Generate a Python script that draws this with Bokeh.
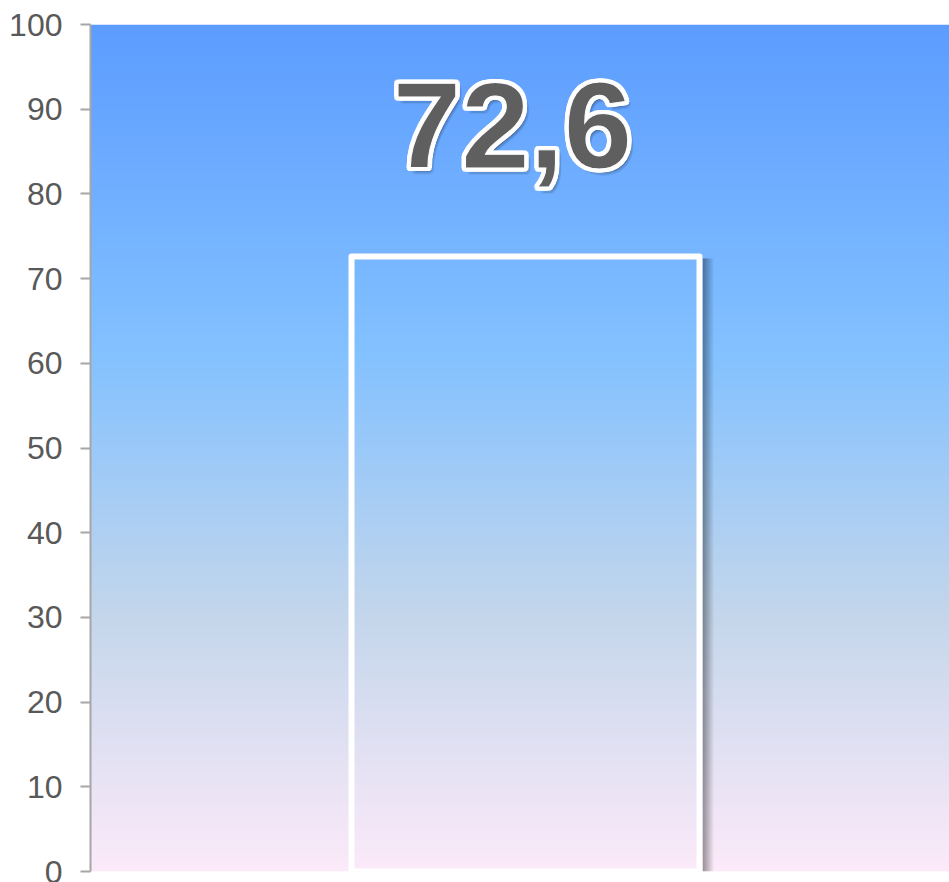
import math
import numpy as np
from bokeh.plotting import figure
from bokeh.models import Range1d, FixedTicker
from bokeh.core.properties import value
from bokeh.embed import file_html
from bokeh.resources import INLINE

# ---- data ----
categories = ["Показатель"]
values = [72.6]
value_labels = ["72,6"]
y_ticks = [0, 10, 20, 30, 40, 50, 60, 70, 80, 90, 100]
y_tick_labels = ["0", "10", "20", "30", "40", "50", "60", "70", "80", "90", "100"]
y_max = 100

# ---- layout ----
W, H = 949, 882
border_left, border_top, border_bottom = 90, 24, 11
frame_w = W - border_left
frame_h = H - border_top - border_bottom
slot_px = 870  # width of the category slot (cropped on the right)
x_end = frame_w / slot_px
px_x = x_end / frame_w
px_y = y_max / frame_h

p = figure(width=W, height=H, output_backend="svg", toolbar_location=None,
           x_range=Range1d(0, x_end), y_range=Range1d(0, y_max),
           min_border_left=border_left, min_border_top=border_top,
           min_border_bottom=border_bottom, min_border_right=0)
p.outline_line_color = None
p.background_fill_color = "white"
p.border_fill_color = "white"
p.xgrid.visible = False
p.ygrid.visible = False
p.xaxis.visible = False

# gradient background ("Daybreak" style)
stops_t = [0.0, 0.39, 0.70, 1.0]  # from top
stops_c = [(92, 156, 255), (131, 193, 255), (196, 214, 235), (252, 234, 249)]
rows = frame_h
t = 1.0 - (np.arange(rows) + 0.5) / rows
img = np.empty((rows, 1), dtype=np.uint32)
view = img.view(dtype=np.uint8).reshape((rows, 1, 4))
for ch in range(3):
    view[:, 0, ch] = np.interp(t, stops_t, [c[ch] for c in stops_c]).round().astype(np.uint8)
view[:, 0, 3] = 255
p.image_rgba(image=[img], x=0, y=0, dw=x_end, dh=y_max)

# bars
xs = [i + 0.5 for i in range(len(categories))]
bar_w = 0.4

# drop shadow to the right of each bar
sh_left, sh_right, sh_top, sh_alpha = [], [], [], []
for xc, v in zip(xs, values):
    edge = xc + bar_w / 2 + 3 * px_x
    for i in range(11):
        sh_left.append(edge + i * px_x)
        sh_right.append(edge + (i + 1) * px_x)
        sh_top.append(v - 2 * px_y)
        sh_alpha.append(0.42 * (1 - i / 11))
p.quad(left=sh_left, right=sh_right, bottom=0, top=sh_top,
       fill_color="black", fill_alpha=sh_alpha, line_color=None)

p.vbar(x=xs, top=values, width=bar_w, bottom=0, fill_alpha=0,
       line_color="white", line_width=6, line_join="round")

# value label: soft shadow, thick white outline, dark fill
lab_font = value("Liberation Sans")
lab_size = "123px"
lab_dx, lab_dy = -13, 101
lab_y = [y_max] * len(xs)

def label_copy(dx, dy, color, alpha, outline):
    p.text(x=xs, y=lab_y, text=value_labels, text_font=lab_font,
           text_font_style="bold", text_font_size=lab_size,
           text_color=color, text_alpha=alpha, text_outline_color=outline,
           text_align="center", text_baseline="alphabetic",
           x_offset=lab_dx + dx, y_offset=lab_dy + dy)

# shadow (blurred by several faint copies)
for k in range(8):
    a = 2 * math.pi * k / 8
    label_copy(3.5 + 2.5 * math.cos(a), 4 + 2.5 * math.sin(a), "black", 0.05, None)
label_copy(3.5, 4, "black", 0.12, None)
# thick white outline
for k in range(12):
    a = 2 * math.pi * k / 12
    label_copy(3.4 * math.cos(a), 3.4 * math.sin(a), "white", 1.0, "white")
# main text
label_copy(0, 0, "#5f5f5f", 1.0, "white")

# y axis
yax = p.yaxis[0]
yax.ticker = FixedTicker(ticks=y_ticks)
yax.major_label_overrides = {tk: lb for tk, lb in zip(y_ticks, y_tick_labels)}
yax.major_label_text_font = "Liberation Sans"
yax.major_label_text_font_size = "32px"
yax.major_label_text_color = "#595959"
yax.axis_line_color = "#a6a6a6"
yax.axis_line_width = 2
yax.major_tick_line_color = "#a6a6a6"
yax.major_tick_line_width = 2
yax.major_tick_out = 10
yax.major_tick_in = 0
yax.minor_tick_out = 0
yax.minor_tick_in = 0
yax.major_label_standoff = 18

open("out.html", "w").write(file_html(p, INLINE))
